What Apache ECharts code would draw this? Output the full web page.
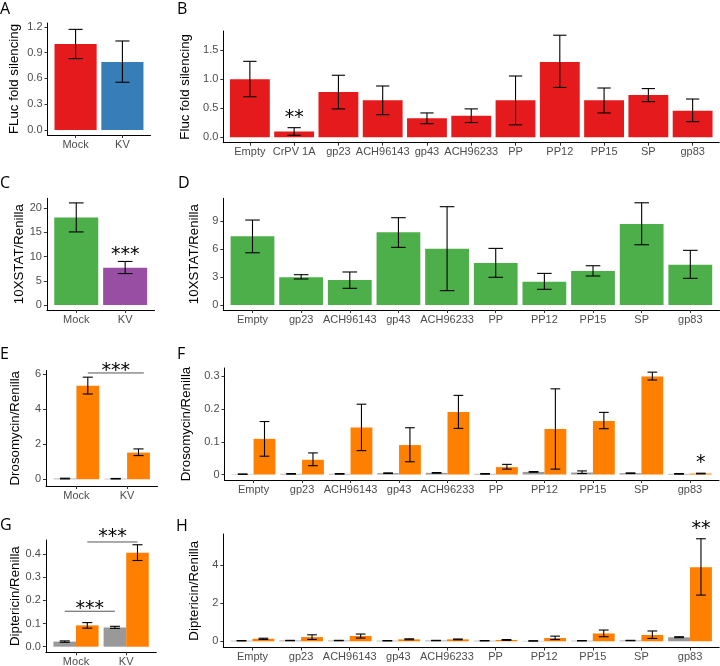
<!DOCTYPE html>
<html><head><meta charset="utf-8">
<script src="https://cdn.jsdelivr.net/npm/echarts@6/dist/echarts.min.js"></script>
<style>html,body{margin:0;padding:0;background:#fff}#c{width:720px;height:666px}</style>
</head><body><div id="c"></div>
<script>
// ---------------- DATA ----------------
// Panel A: FLuc fold silencing, Mock vs KV
const catsA = ['Mock', 'KV'];
const flucA = [1.00, 0.79];
const flucALow = [0.83, 0.555];
const flucAHigh = [1.17, 1.035];
const ticksA = [0, 0.3, 0.6, 0.9, 1.2];

// Panel B: FLuc fold silencing per construct
const catsB = ['Empty', 'CrPV 1A', 'gp23', 'ACH96143', 'gp43', 'ACH96233', 'PP', 'PP12', 'PP15', 'SP', 'gp83'];
const flucB = [1.00, 0.10, 0.78, 0.64, 0.33, 0.37, 0.64, 1.30, 0.64, 0.73, 0.46];
const flucBLow = [0.70, 0.035, 0.49, 0.39, 0.235, 0.255, 0.215, 0.86, 0.42, 0.615, 0.27];
const flucBHigh = [1.31, 0.166, 1.07, 0.885, 0.42, 0.49, 1.057, 1.76, 0.85, 0.84, 0.66];
const ticksB = [0, 0.5, 1.0, 1.5];

// Panel C: 10XSTAT/Renilla, Mock vs KV
const catsC = ['Mock', 'KV'];
const statC = [18.1, 7.7];
const statCLow = [15.1, 6.5];
const statCHigh = [21.1, 9.0];
const ticksC = [0, 5, 10, 15, 20];

// Panel D: 10XSTAT/Renilla per construct
const catsD = ['Empty', 'gp23', 'ACH96143', 'gp43', 'ACH96233', 'PP', 'PP12', 'PP15', 'SP', 'gp83'];
const statD = [7.36, 2.97, 2.68, 7.79, 6.03, 4.50, 2.50, 3.64, 8.68, 4.32];
const statDLow = [5.60, 2.79, 1.79, 6.18, 1.54, 2.97, 1.68, 3.11, 6.46, 2.86];
const statDHigh = [9.11, 3.25, 3.54, 9.36, 10.54, 6.07, 3.39, 4.21, 10.96, 5.86];
const ticksD = [0, 3, 6, 9];

// Panel E: Drosomycin/Renilla, Mock vs KV (gray = control, orange = induced)
const catsE = ['Mock', 'KV'];
const drsEGray = [0.04, 0.03];
const drsEGrayLow = [0.02, 0.015];
const drsEGrayHigh = [0.06, 0.045];
const drsEOrange = [5.33, 1.52];
const drsEOrangeLow = [4.86, 1.35];
const drsEOrangeHigh = [5.82, 1.73];
const ticksE = [0, 2, 4, 6];

// Panel F: Drosomycin/Renilla per construct
const catsF = ['Empty', 'gp23', 'ACH96143', 'gp43', 'ACH96233', 'PP', 'PP12', 'PP15', 'SP', 'gp83'];
const drsFGray = [0.001, 0.002, 0.002, 0.004, 0.005, 0.002, 0.008, 0.006, 0.004, 0.002];
const drsFGrayLow = [0.0005, 0.001, 0.001, 0.003, 0.004, 0.001, 0.007, 0.003, 0.003, 0.001];
const drsFGrayHigh = [0.0015, 0.003, 0.003, 0.005, 0.006, 0.003, 0.009, 0.011, 0.005, 0.003];
const drsFOrange = [0.109, 0.045, 0.144, 0.090, 0.191, 0.0225, 0.139, 0.164, 0.300, 0.003];
const drsFOrangeLow = [0.056, 0.027, 0.073, 0.039, 0.141, 0.0165, 0.0165, 0.140, 0.289, 0.002];
const drsFOrangeHigh = [0.162, 0.066, 0.215, 0.143, 0.242, 0.031, 0.262, 0.190, 0.313, 0.004];
const ticksF = [0, 0.1, 0.2, 0.3];

// Panel G: Diptericin/Renilla, Mock vs KV
const catsG = ['Mock', 'KV'];
const dptGGray = [0.022, 0.083];
const dptGGrayLow = [0.019, 0.079];
const dptGGrayHigh = [0.025, 0.088];
const dptGOrange = [0.092, 0.405];
const dptGOrangeLow = [0.080, 0.372];
const dptGOrangeHigh = [0.104, 0.440];
const ticksG = [0, 0.1, 0.2, 0.3, 0.4];

// Panel H: Diptericin/Renilla per construct
const catsH = ['Empty', 'gp23', 'ACH96143', 'gp43', 'ACH96233', 'PP', 'PP12', 'PP15', 'SP', 'gp83'];
const dptHGray = [0.03, 0.04, 0.04, 0.03, 0.04, 0.03, 0.02, 0.03, 0.04, 0.21];
const dptHGrayLow = [0.02, 0.03, 0.03, 0.02, 0.03, 0.02, 0.01, 0.02, 0.03, 0.19];
const dptHGrayHigh = [0.04, 0.05, 0.05, 0.04, 0.05, 0.04, 0.03, 0.04, 0.05, 0.24];
const dptHOrange = [0.13, 0.22, 0.28, 0.10, 0.10, 0.07, 0.17, 0.41, 0.33, 3.88];
const dptHOrangeLow = [0.10, 0.10, 0.17, 0.08, 0.08, 0.05, 0.09, 0.24, 0.15, 2.42];
const dptHOrangeHigh = [0.16, 0.34, 0.38, 0.13, 0.12, 0.09, 0.27, 0.59, 0.54, 5.37];
const ticksH = [0, 2, 4];

// Significance annotations
const sigB = [{x: 2, y: 0.40, t: '**'}];
const sigC = [{x: 2, y: 11.2, t: '***'}];
const sigE = [{x: 1.775, y: 6.40, t: '***'}];
const sigELines = [[1.225, 2.33, 6.06]];
const sigF = [{x: 10.225, y: 0.0465, t: '*'}];
const sigG = [{x: 1.275, y: 0.180, t: '***'}, {x: 1.725, y: 0.489, t: '***'}];
const sigGLines = [[0.775, 1.775, 0.153], [1.225, 2.225, 0.452]];
const sigH = [{x: 10.225, y: 6.10, t: '**'}];

// ---------------- STYLE / LAYOUT ----------------
const RED = '#E41A1C', BLUE = '#377EB8', GREEN = '#4DAF4A', PURPLE = '#984EA3', ORANGE = '#FF7F00', GRAY = '#999999';
const FONT = 'Liberation Sans, Arial, sans-serif';
const L = {
  A: {l: 47.5, t: 23, r: 150.5, b: 135, ymin: -0.058, ymax: 1.244, tx: 14},
  B: {l: 223.3, t: 31, r: 719.2, b: 142.7, ymin: -0.093, ymax: 1.833, tx: 195},
  C: {l: 46.9, t: 198.3, r: 154.5, b: 310, ymin: -1.03, ymax: 22.05, tx: 23},
  D: {l: 223.3, t: 198.3, r: 719.5, b: 310, ymin: -0.536, ymax: 11.44, tx: 195},
  E: {l: 46, t: 370.5, r: 157.5, b: 486, ymin: -0.384, ymax: 6.20, tx: 15},
  F: {l: 224.5, t: 368, r: 719, b: 480, ymin: -0.0168, ymax: 0.3257, tx: 196.5},
  G: {l: 45.9, t: 540, r: 156.3, b: 652.3, ymin: -0.0242, ymax: 0.4605, tx: 15},
  H: {l: 223.3, t: 534, r: 719.2, b: 647.5, ymin: -0.325, ymax: 5.62, tx: 195}
};

const grids = [], xAxes = [], yAxes = [], series = [];
const fmt1 = v => v.toFixed(1);
const fmt0 = v => String(v);

function addPanel(p, cats, ticks, yfmt, yName) {
  const gi = grids.length;
  const xs = cats.map((c, i) => i + 1);
  grids.push({left: p.l, top: p.t, width: p.r - p.l, height: p.b - p.t, outerBoundsMode: 'none', containLabel: false});
  xAxes.push({
    type: 'value', gridIndex: gi, min: 0.4, max: cats.length + 0.6,
    axisLine: {show: true, onZero: false, lineStyle: {color: '#000', width: 1}},
    axisTick: {show: true, length: 3, customValues: xs, lineStyle: {color: '#333', width: 1}},
    axisLabel: {show: true, customValues: xs, formatter: v => cats[Math.round(v) - 1], color: '#4D4D4D', fontSize: 11, margin: 4, fontFamily: FONT},
    splitLine: {show: false}
  });
  yAxes.push({
    type: 'value', gridIndex: gi, min: p.ymin, max: p.ymax,
    axisLine: {show: true, onZero: false, lineStyle: {color: '#000', width: 1}},
    axisTick: {show: true, length: 3, customValues: ticks, lineStyle: {color: '#333', width: 1}},
    axisLabel: {show: true, customValues: ticks, formatter: yfmt, color: '#4D4D4D', fontSize: 11, margin: 5, fontFamily: FONT},
    splitLine: {show: false},
    name: yName, nameLocation: 'middle', nameRotate: 90, nameGap: (p.l - p.tx) - 7,
    nameTextStyle: {color: '#000', fontSize: 13.3, fontFamily: FONT}
  });
  return gi;
}

function singleBars(gi, vals, colors) {
  series.push({
    type: 'bar', xAxisIndex: gi, yAxisIndex: gi, barWidth: '90%',
    data: vals.map((v, i) => ({value: [i + 1, v], itemStyle: {color: colors[i % colors.length]}}))
  });
}
function groupedBars(gi, gray, orange) {
  series.push({type: 'bar', xAxisIndex: gi, yAxisIndex: gi, barWidth: '45%', barGap: '0%', itemStyle: {color: GRAY},
    data: gray.map((v, i) => [i + 1, v])});
  series.push({type: 'bar', xAxisIndex: gi, yAxisIndex: gi, barWidth: '45%', barGap: '0%', itemStyle: {color: ORANGE},
    data: orange.map((v, i) => [i + 1, v])});
}
function errBars(gi, offset, lows, highs, hw) {
  series.push({
    type: 'custom', xAxisIndex: gi, yAxisIndex: gi, clip: false, z: 5,
    data: lows.map((lo, i) => [i + 1 + offset, lo, highs[i]]),
    renderItem(params, api) {
      const x = api.value(0), lo = api.value(1), hi = api.value(2);
      const pt = api.coord([x, hi]), pb = api.coord([x, lo]);
      const xl = api.coord([x - hw, hi])[0], xr = api.coord([x + hw, hi])[0];
      const st = {stroke: '#000', lineWidth: 1.1};
      return {type: 'group', children: [
        {type: 'line', shape: {x1: pt[0], y1: pt[1], x2: pb[0], y2: pb[1]}, style: st},
        {type: 'line', shape: {x1: xl, y1: pt[1], x2: xr, y2: pt[1]}, style: st},
        {type: 'line', shape: {x1: xl, y1: pb[1], x2: xr, y2: pb[1]}, style: st}
      ]};
    }
  });
}
function sigText(gi, items) {
  series.push({
    type: 'custom', xAxisIndex: gi, yAxisIndex: gi, clip: false, z: 6,
    data: items.map(s => [s.x, s.y]),
    renderItem(params, api) {
      const p = api.coord([api.value(0), api.value(1)]);
      return {type: 'text', x: p[0], y: p[1] + 4, style: {text: items[params.dataIndex].t, fill: '#000',
        font: '19px "DejaVu Sans", sans-serif', align: 'center', verticalAlign: 'middle'}};
    }
  });
}
function sigLines(gi, lines) {
  series.push({
    type: 'custom', xAxisIndex: gi, yAxisIndex: gi, clip: false, z: 6,
    data: lines,
    renderItem(params, api) {
      const p1 = api.coord([api.value(0), api.value(2)]), p2 = api.coord([api.value(1), api.value(2)]);
      return {type: 'line', shape: {x1: p1[0], y1: p1[1], x2: p2[0], y2: p2[1]}, style: {stroke: '#555', lineWidth: 1}};
    }
  });
}

// A
let g = addPanel(L.A, catsA, ticksA, fmt1, 'FLuc fold silencing');
singleBars(g, flucA, [RED, BLUE]);
errBars(g, 0, flucALow, flucAHigh, 0.15);
// B
g = addPanel(L.B, catsB, ticksB, fmt1, 'Fluc fold silencing');
singleBars(g, flucB, [RED]);
errBars(g, 0, flucBLow, flucBHigh, 0.15);
sigText(g, sigB);
// C
g = addPanel(L.C, catsC, ticksC, fmt0, '10XSTAT/Renilla');
singleBars(g, statC, [GREEN, PURPLE]);
errBars(g, 0, statCLow, statCHigh, 0.15);
sigText(g, sigC);
// D
g = addPanel(L.D, catsD, ticksD, fmt0, '10XSTAT/Renilla');
singleBars(g, statD, [GREEN]);
errBars(g, 0, statDLow, statDHigh, 0.15);
// E
g = addPanel(L.E, catsE, ticksE, fmt0, 'Drosomycin/Renilla');
groupedBars(g, drsEGray, drsEOrange);
errBars(g, -0.225, drsEGrayLow, drsEGrayHigh, 0.1);
errBars(g, 0.225, drsEOrangeLow, drsEOrangeHigh, 0.1);
sigLines(g, sigELines);
sigText(g, sigE);
// F
g = addPanel(L.F, catsF, ticksF, fmt0, 'Drosomycin/Renilla');
groupedBars(g, drsFGray, drsFOrange);
errBars(g, -0.225, drsFGrayLow, drsFGrayHigh, 0.1);
errBars(g, 0.225, drsFOrangeLow, drsFOrangeHigh, 0.1);
sigText(g, sigF);
// G
g = addPanel(L.G, catsG, ticksG, fmt1, 'Diptericin/Renilla');
groupedBars(g, dptGGray, dptGOrange);
errBars(g, -0.225, dptGGrayLow, dptGGrayHigh, 0.1);
errBars(g, 0.225, dptGOrangeLow, dptGOrangeHigh, 0.1);
sigLines(g, sigGLines);
sigText(g, sigG);
// H
g = addPanel(L.H, catsH, ticksH, fmt0, 'Diptericin/Renilla');
groupedBars(g, dptHGray, dptHOrange);
errBars(g, -0.225, dptHGrayLow, dptHGrayHigh, 0.1);
errBars(g, 0.225, dptHOrangeLow, dptHOrangeHigh, 0.1);
sigText(g, sigH);

const letterStyle = {fontSize: 16, fontWeight: 'normal', fontFamily: '"Open Sans", sans-serif', color: '#000'};
const letters = [['A', 0, 1], ['B', 177, 1], ['C', 0, 175.5], ['D', 178, 175.5], ['E', 0, 346], ['F', 177, 346], ['G', 0, 517], ['H', 176, 518.5]];

const chart = echarts.init(document.getElementById('c'), null, {renderer: 'canvas'});
chart.setOption({
  backgroundColor: '#fff',
  animation: false,
  title: letters.map(l => ({text: l[0], left: l[1], top: l[2], padding: 0, textStyle: letterStyle})),
  grid: grids, xAxis: xAxes, yAxis: yAxes, series: series
});
</script></body></html>
